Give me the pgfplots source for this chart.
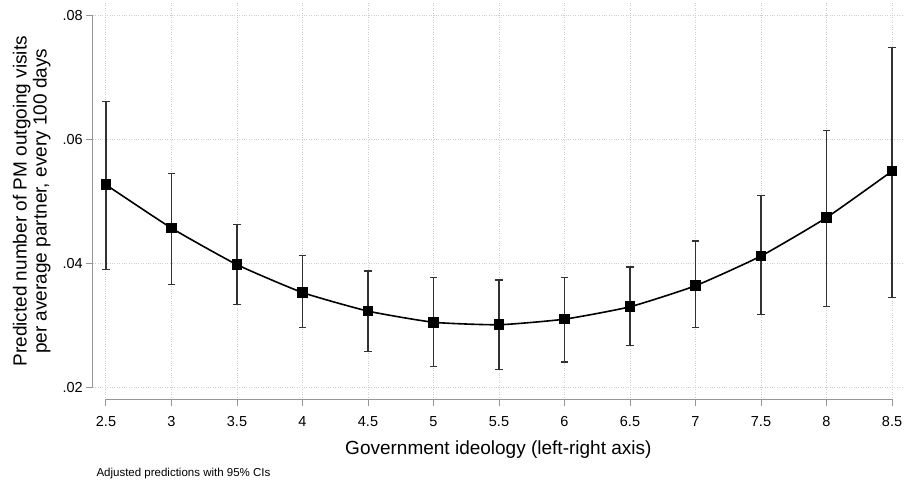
\documentclass[border=0pt]{standalone}
\usepackage{pgfplots}
\pgfplotsset{compat=1.18}
\usepackage{pgfplotstable}
\usepackage{fontspec}
\setmainfont{Liberation Sans}
\pgfplotstableread{
x y lo hi
2.5 0.0527 0.0390 0.0661
3 0.0457 0.0366 0.0545
3.5 0.0398 0.0334 0.0463
4 0.0353 0.0297 0.0413
4.5 0.0323 0.0258 0.0388
5 0.0305 0.0234 0.0377
5.5 0.0301 0.0229 0.0373
6 0.0310 0.0241 0.0377
6.5 0.0330 0.0267 0.0394
7 0.0364 0.0296 0.0436
7.5 0.0412 0.0317 0.0510
8 0.0474 0.0331 0.0615
8.5 0.0549 0.0345 0.0749
}\datatable
\definecolor{axgray}{RGB}{150,150,150}
\definecolor{gridgray}{RGB}{205,205,205}
\definecolor{barcol}{RGB}{50,50,50}
\begin{document}
\begin{tikzpicture}
\useasboundingbox (0,0) rectangle (904pt,481pt);
\begin{axis}[
  at={(92.7pt,81.5pt)}, anchor=south west,
  scale only axis, width=811.3pt, height=396.5pt,
  xmin=2.3985, xmax=8.5916, ymin=0.01803, ymax=0.08205,
  axis line style={draw=none},
  xtick={2.5,3,3.5,4,4.5,5,5.5,6,6.5,7,7.5,8,8.5},
  xticklabels={2.5,3,3.5,4,4.5,5,5.5,6,6.5,7,7.5,8,8.5},
  ytick={0.02,0.04,0.06,0.08},
  yticklabels={.02,.04,.06,.08},
  xtick pos=bottom, ytick pos=left, tick align=outside,
  major tick length=6.5pt,
  tick style={axgray, line width=1pt},
  grid=major,
  major grid style={gridgray, dotted, line width=1pt},
  ticklabel style={font=\fontsize{14.5}{16}\selectfont, black},
  xticklabel style={yshift=-7pt},
  xlabel={Government ideology (left-right axis)},
  xlabel style={font=\fontsize{19}{21}\selectfont, yshift=-7pt},
  ylabel={Predicted number of PM outgoing visits\\per average partner, every 100 days},
  ylabel style={font=\fontsize{19}{20}\selectfont, align=center, yshift=5pt},
  clip=false,
]
\draw[axgray, line width=1.2pt] (axis cs:2.3985,0.02) -- (axis cs:2.3985,0.08);
\draw[axgray, line width=1.2pt] (axis cs:2.5,0.01803) -- (axis cs:8.5,0.01803);
\addplot[black, line width=1.6pt, smooth, tension=0.3, mark=square*, mark size=4.5pt, mark options={solid},
  error bars/.cd, y dir=both, y explicit,
  error bar style={line width=1.3pt, barcol, solid},
  error mark options={barcol, line width=1.3pt, mark size=3.7pt, rotate=90}]
  table[x=x, y=y, y error plus expr=\thisrow{hi}-\thisrow{y}, y error minus expr=\thisrow{y}-\thisrow{lo}] {\datatable};
\end{axis}
\node[anchor=base west, font=\fontsize{11.5}{13}\selectfont] at (93pt,4pt) {Adjusted predictions with 95\% CIs};
\end{tikzpicture}
\end{document}
